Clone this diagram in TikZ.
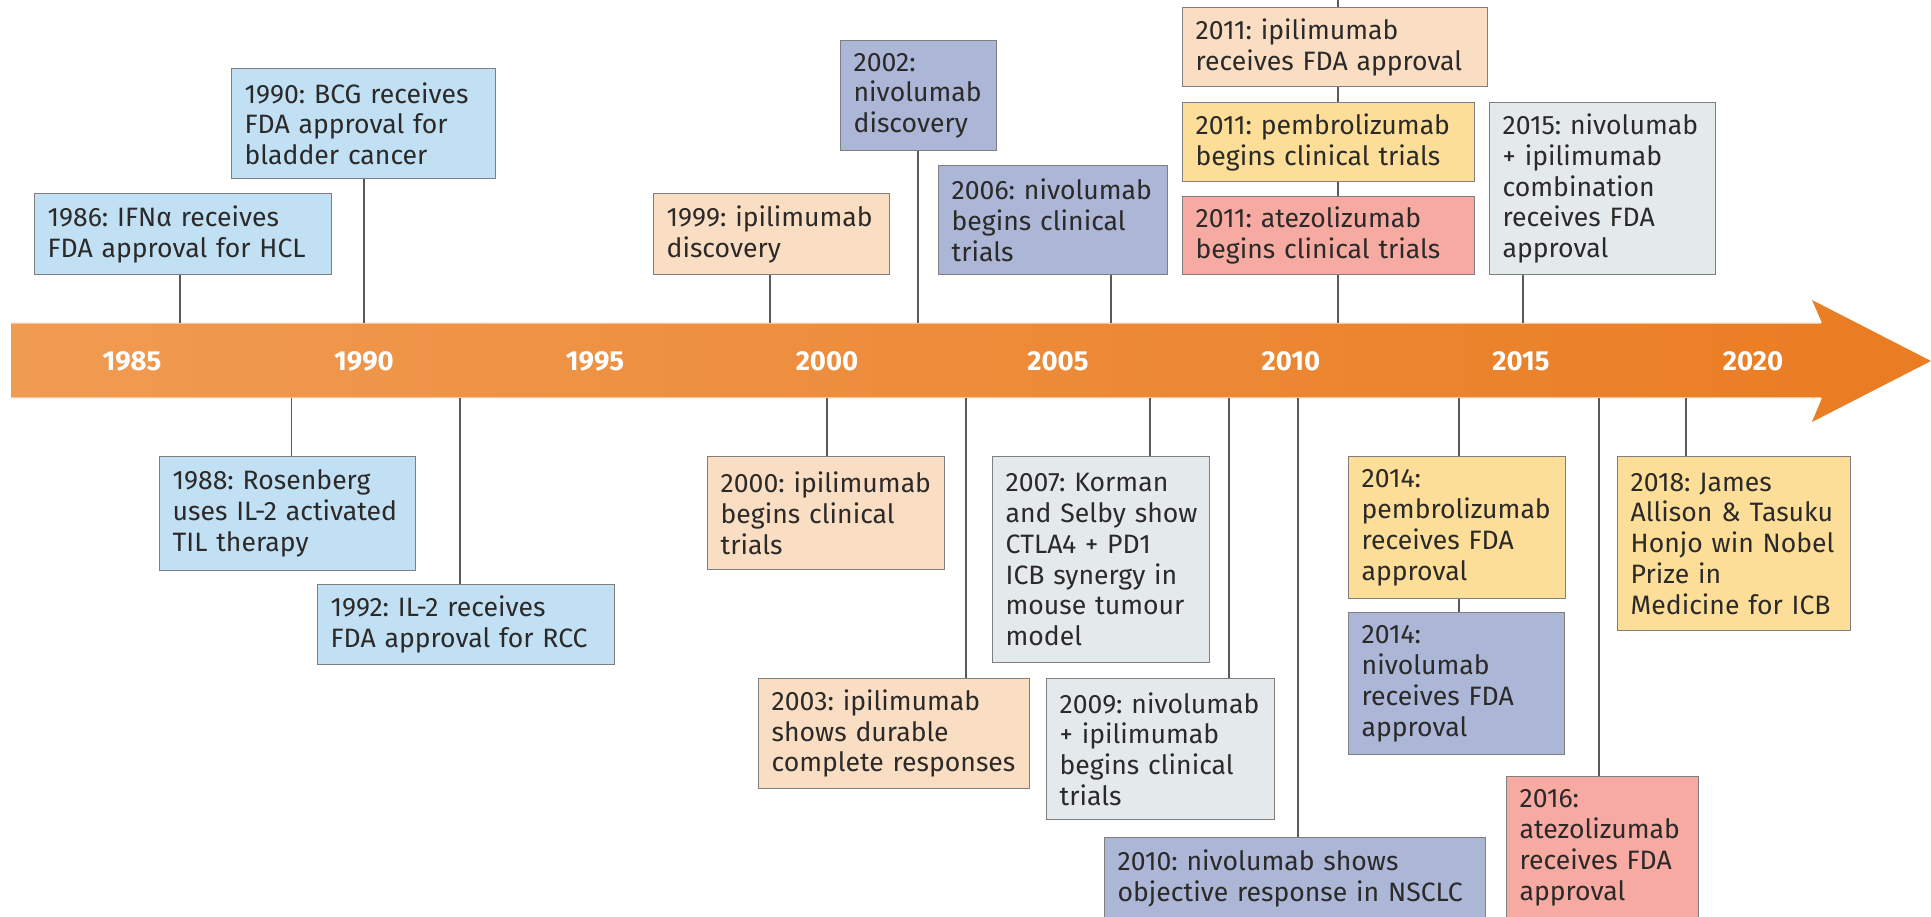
\documentclass[tikz,border=0pt]{standalone}
\usepackage{fontspec}
\setmainfont{Fira Sans}
\frenchspacing
\definecolor{cblue}{HTML}{C2E0F4}
\definecolor{cpeach}{HTML}{FADEC4}
\definecolor{cperi}{HTML}{ACB6D6}
\definecolor{cyel}{HTML}{FDDE98}
\definecolor{csalm}{HTML}{F6AAA2}
\definecolor{cgrey}{HTML}{E4E9EC}
\definecolor{boxline}{HTML}{7F7F7F}
\definecolor{connline}{HTML}{5A5A5A}
\definecolor{txt}{HTML}{2B2A29}
\definecolor{bandL}{HTML}{F09B52}
\definecolor{bandR}{HTML}{EA7C22}
\definecolor{bandedge}{HTML}{F7C69C}
\newcommand\evfont{\fontsize{26.6}{30.8}\selectfont}
% one unbreakable line of box text
\newcommand\evl[1]{\mbox{#1}}
\tikzset{
  evbox/.style={draw=boxline, line width=1.3pt, anchor=north west, inner xsep=13pt, inner ysep=0pt,
    align=left, font=\evfont, text=txt},
  conn/.style={draw=connline, line width=1.3pt},
  yearlbl/.style={text=white, font=\fontsize{27.5}{30}\selectfont\bfseries}
}
\begin{document}
\begin{tikzpicture}[x=1pt,y=-1pt]
\useasboundingbox (0,0) rectangle (1931,917);
\clip (0,0) rectangle (1931,917);
% band
\shade[left color=bandL, right color=bandR]
  (11,323) -- (1822,323) -- (1812,300) -- (1931,361) -- (1812,422) -- (1822,398) -- (11,398) -- cycle;
\draw[bandedge, line width=1pt] (11,323.5) -- (1821,323.5);
\draw[bandedge, line width=1pt] (11,397.5) -- (1821,397.5);
\foreach \yr/\xx in {1985/132,1990/364,1995/595,2000/827,2005/1058,2010/1291,2015/1521,2020/1753}
  \node[yearlbl] (y\yr) at (\xx,361) {\yr};

% top boxes
\node[evbox, fill=cblue, text width=271pt, minimum height=81pt] (b1986) at (34,193) {\evl{1986: IFNα receives}\\\evl{FDA approval for HCL}};
\node[evbox, fill=cblue, text width=238pt, minimum height=110pt] (b1990) at (231,68) {\evl{1990: BCG receives}\\\evl{FDA approval for}\\\evl{bladder cancer}};
\node[evbox, fill=cpeach, text width=210pt, minimum height=81pt] (b1999) at (653,193) {\evl{1999: ipilimumab}\\\evl{discovery}};
\node[evbox, fill=cperi, text width=130pt, minimum height=110pt] (b2002) at (840,40) {\evl{2002:}\\\evl{nivolumab}\\\evl{discovery}};
\node[evbox, fill=cperi, text width=203pt, minimum height=109pt] (b2006) at (938,165) {\evl{2006: nivolumab}\\\evl{begins clinical}\\\evl{trials}};
\node[evbox, fill=cpeach, text width=279pt, minimum height=79pt] (b2011i) at (1182,7) {\evl{2011: ipilimumab}\\\evl{receives FDA approval}};
\node[evbox, fill=cyel, text width=266pt, minimum height=79pt] (b2011p) at (1182,102) {\evl{2011: pembrolizumab}\\\evl{begins clinical trials}};
\node[evbox, fill=csalm, text width=266pt, minimum height=78pt] (b2011a) at (1182,196) {\evl{2011: atezolizumab}\\\evl{begins clinical trials}};
\node[evbox, fill=cgrey, text width=200pt, minimum height=172pt] (b2015) at (1489,102) {\evl{2015: nivolumab}\\\evl{+ ipilimumab}\\\evl{combination}\\\evl{receives FDA}\\\evl{approval}};

% bottom boxes
\node[evbox, fill=cblue, text width=230pt, minimum height=114pt] (b1988) at (159,456) {\evl{1988: Rosenberg}\\\evl{uses IL-2 activated}\\\evl{TIL therapy}};
\node[evbox, fill=cblue, text width=271pt, minimum height=80pt] (b1992) at (317,584) {\evl{1992: IL-2 receives}\\\evl{FDA approval for RCC}};
\node[evbox, fill=cpeach, text width=211pt, minimum height=113pt] (b2000) at (707,456) {\evl{2000: ipilimumab}\\\evl{begins clinical}\\\evl{trials}};
\node[evbox, fill=cpeach, text width=245pt, minimum height=110pt] (b2003) at (758,678) {\evl{2003: ipilimumab}\\\evl{shows durable}\\\evl{complete responses}};
\node[evbox, fill=cgrey, text width=191pt, minimum height=206pt] (b2007) at (992,456) {\evl{2007: Korman}\\\evl{and Selby show}\\\evl{CTLA4 + PD1}\\\evl{ICB synergy in}\\\evl{mouse tumour}\\\evl{model}};
\node[evbox, fill=cgrey, text width=202pt, minimum height=141pt] (b2009) at (1046,678) {\evl{2009: nivolumab}\\\evl{+ ipilimumab}\\\evl{begins clinical}\\\evl{trials}};
\node[evbox, fill=cperi, text width=355pt, minimum height=82pt] (b2010) at (1104,837) {\evl{2010: nivolumab shows}\\\evl{objective response in NSCLC}};
\node[evbox, fill=cyel, text width=191pt, minimum height=142pt] (b2014p) at (1348,456) {\evl{2014:}\\\evl{pembrolizumab}\\\evl{receives FDA}\\\evl{approval}};
\node[evbox, fill=cperi, text width=190pt, minimum height=142pt] (b2014n) at (1348,612) {\evl{2014:}\\\evl{nivolumab}\\\evl{receives FDA}\\\evl{approval}};
\node[evbox, fill=csalm, text width=166pt, minimum height=142pt] (b2016) at (1506,776) {\evl{2016:}\\\evl{atezolizumab}\\\evl{receives FDA}\\\evl{approval}};
\node[evbox, fill=cyel, text width=207pt, minimum height=174pt] (b2018) at (1617,456) {\evl{2018: James}\\\evl{Allison \& Tasuku}\\\evl{Honjo win Nobel}\\\evl{Prize in}\\\evl{Medicine for ICB}};

% connector anchor points on the band
\coordinate (c1986) at (180,323);
\coordinate (c1990) at (364,323);
\coordinate (c1999) at (770,323);
\coordinate (c2002) at (918,323);
\coordinate (c2006) at (1111,323);
\coordinate (c2011) at (1338,323);
\coordinate (c2015) at (1523,323);
\coordinate (top2011) at (1338,0);
\coordinate (d1988) at (291.5,398);
\coordinate (d1992) at (460,398);
\coordinate (d2000) at (827,398);
\coordinate (d2003) at (966,398);
\coordinate (d2007) at (1150,398);
\coordinate (d2009) at (1229,398);
\coordinate (d2010) at (1298,398);
\coordinate (d2014) at (1459,398);
\coordinate (d2016) at (1599,398);
\coordinate (d2018) at (1686,398);

\draw[conn] (c1986) -- (c1986 |- b1986.south);
\draw[conn] (c1990) -- (c1990 |- b1990.south);
\draw[conn] (c1999) -- (c1999 |- b1999.south);
\draw[conn] (c2002) -- (c2002 |- b2002.south);
\draw[conn] (c2006) -- (c2006 |- b2006.south);
\draw[conn] (c2011) -- (c2011 |- b2011a.south);
\draw[conn] (c2011 |- b2011a.north) -- (c2011 |- b2011p.south);
\draw[conn] (c2011 |- b2011p.north) -- (c2011 |- b2011i.south);
\draw[conn] (c2011 |- b2011i.north) -- (top2011);
\draw[conn] (c2015) -- (c2015 |- b2015.south);

\draw[conn] (d1988) -- (d1988 |- b1988.north);
\draw[conn] (d1992) -- (d1992 |- b1992.north);
\draw[conn] (d2000) -- (d2000 |- b2000.north);
\draw[conn] (d2003) -- (d2003 |- b2003.north);
\draw[conn] (d2007) -- (d2007 |- b2007.north);
\draw[conn] (d2009) -- (d2009 |- b2009.north);
\draw[conn] (d2010) -- (d2010 |- b2010.north);
\draw[conn] (d2014) -- (d2014 |- b2014p.north);
\draw[conn] (d2014 |- b2014p.south) -- (d2014 |- b2014n.north);
\draw[conn] (d2016) -- (d2016 |- b2016.north);
\draw[conn] (d2018) -- (d2018 |- b2018.north);
\end{tikzpicture}
\end{document}
